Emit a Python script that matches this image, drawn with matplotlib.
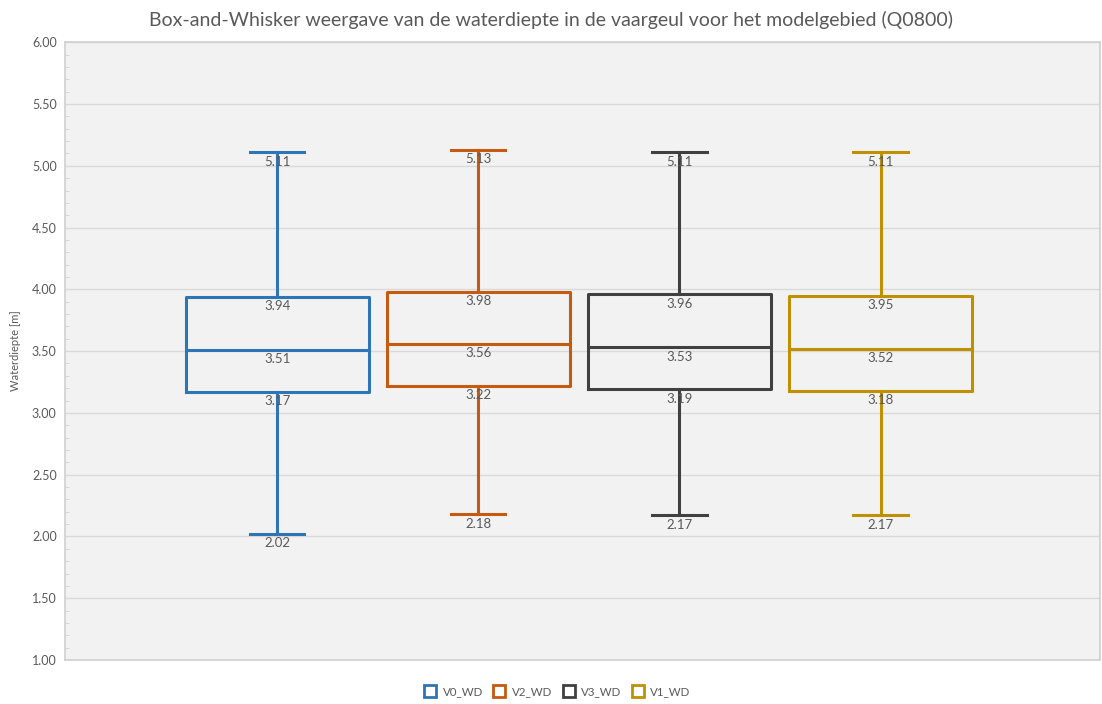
import numpy as np
import matplotlib.pyplot as plt
from matplotlib.lines import Line2D
from matplotlib.ticker import MultipleLocator, FormatStrFormatter

plt.rcParams['font.family'] = ['Lato', 'DejaVu Sans']

series = ['V0_WD', 'V2_WD', 'V3_WD', 'V1_WD']
colors = ['#2E75B6', '#C55A11', '#404040', '#BF9000']
mins = [2.02, 2.18, 2.17, 2.17]
q1s = [3.17, 3.22, 3.19, 3.18]
medians = [3.51, 3.56, 3.53, 3.52]
q3s = [3.94, 3.98, 3.96, 3.95]
maxs = [5.11, 5.13, 5.11, 5.11]

title = 'Box-and-Whisker weergave van de waterdiepte in de vaargeul voor het modelgebied (Q0800)'
ylabel = 'Waterdiepte [m]'
txt = '#595959'

fig = plt.figure(figsize=(11.02, 7.04), dpi=100)
ax = fig.add_axes([0.059, 0.0625, 0.939, 0.8775])
ax.set_facecolor('#f2f2f2')

positions = np.arange(len(series))
for i, s in enumerate(series):
    stats = [{'med': medians[i], 'q1': q1s[i], 'q3': q3s[i],
              'whislo': mins[i], 'whishi': maxs[i], 'fliers': [], 'label': s}]
    c = colors[i]
    ax.bxp(stats, positions=[positions[i]], widths=0.91, showfliers=False,
           boxprops=dict(color=c, linewidth=2.2),
           medianprops=dict(color=c, linewidth=2.2),
           whiskerprops=dict(color=c, linewidth=2.2),
           capprops=dict(color=c, linewidth=2.2),
           capwidths=0.27, manage_ticks=False)
    for v in [mins[i], q1s[i], medians[i], q3s[i], maxs[i]]:
        ax.annotate('%.2f' % v, (positions[i], v), xytext=(0, -2.5),
                    textcoords='offset points', ha='center', va='top',
                    fontsize=9.5, color=txt, zorder=5)

ax.set_xlim(-1.055, 4.09)
ax.set_ylim(1.0, 6.0)
ax.yaxis.set_major_locator(MultipleLocator(0.5))
ax.yaxis.set_minor_locator(MultipleLocator(0.1))
ax.yaxis.set_major_formatter(FormatStrFormatter('%.2f'))
ax.set_xticks([])
ax.grid(axis='y', which='major', color='#d9d9d9', linewidth=1)
ax.set_axisbelow(True)
for sp in ax.spines.values():
    sp.set_color('#d0d0d0')
    sp.set_linewidth(1.2)
ax.tick_params(axis='y', which='major', length=0, labelsize=9, labelcolor=txt, pad=6)
ax.tick_params(axis='y', which='minor', length=3, direction='in', color='#d0d0d0')

ax.set_ylabel(ylabel, fontsize=8, color=txt, labelpad=8)
fig.suptitle(title, fontsize=14, color=txt, y=0.985)

handles = [Line2D([], [], linestyle='none', marker='s', markersize=9,
                  markerfacecolor='none', markeredgecolor=c, markeredgewidth=2)
           for c in colors]
fig.legend(handles, series, loc='center', bbox_to_anchor=(0.506, 0.017), ncol=4,
           frameon=False, fontsize=8.3, labelcolor=txt, handletextpad=0.6,
           columnspacing=0.9, handlelength=1.0)

fig.savefig('out.png', dpi=100, facecolor='w')
